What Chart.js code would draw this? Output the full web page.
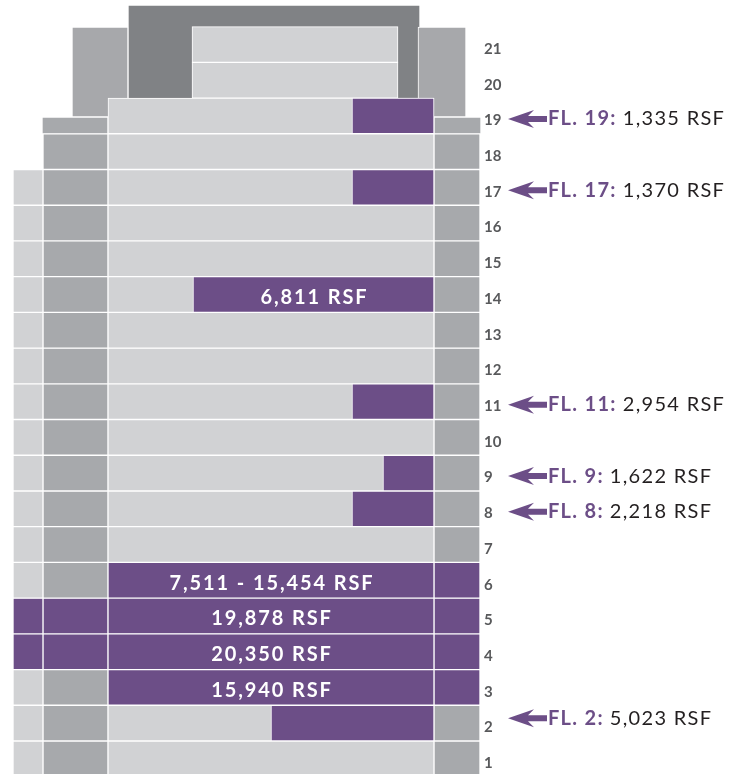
<!DOCTYPE html>
<html>
<head>
<meta charset="utf-8">
<script src="https://cdn.jsdelivr.net/npm/chart.js@4.4.1/dist/chart.umd.min.js"></script>
<style>
  html, body { margin: 0; padding: 0; background: #ffffff; }
  #wrap { width: 744px; height: 774px; position: relative; }
</style>
</head>
<body>
<div id="wrap"><canvas id="stack" width="744" height="774"></canvas></div>
<script>
// Floors of the building (bottom to top)
const floors = [1, 2, 3, 4, 5, 6, 7, 8, 9, 10, 11, 12, 13, 14, 15, 16, 17, 18, 19, 20, 21];

// Available space (purple), and where it starts across the floor plate
const leasedFloors = [19, 17, 14, 11, 9, 8, 6, 5, 4, 3, 2];
const leasedFrom = [352, 352, 193, 352, 383, 352, 108, 108, 108, 108, 271];

// Floors where the side wings are also available
const wingLeasedFloors = [4, 5];
const rightLeasedFloors = [3, 4, 5, 6];

// Labels written inside the bars
const barLabelFloors = [14, 6, 5, 4, 3];
const barLabelTexts = ['6,811 RSF', '7,511 - 15,454 RSF', '19,878 RSF', '20,350 RSF', '15,940 RSF'];

// Callouts on the right
const calloutFloors = [19, 17, 11, 9, 8, 2];
const calloutRsf = ['1,335 RSF', '1,370 RSF', '2,954 RSF', '1,622 RSF', '2,218 RSF', '5,023 RSF'];

// Colours
const PURPLE = '#6c4e87';
const LIGHT = '#d1d2d4';
const MID = '#a7a9ac';
const DARK = '#808285';

// plan units = pixels across the 744 wide page
const Y_MIN = 0.576, Y_MAX = 22.245;
const ROW = 774 / (Y_MAX - Y_MIN);

function rows(list, from, to) {
    return list.map(f => ({ y: f, x: [from, to] }));
}

const lowFloors = floors.filter(f => f <= 19);
const colAFloors = floors.filter(f => f <= 17);
const colBFloors = floors.filter(f => f <= 18);
const topFloors = floors.filter(f => f >= 20);

const barCommon = {
    borderColor: '#ffffff',
    borderWidth: 1,
    borderSkipped: false,
    stack: 'plan',
    barThickness: ROW
};

const datasets = [
    Object.assign({}, barCommon, {
        label: 'available',
        data: leasedFloors.map((f, i) => ({ y: f, x: [leasedFrom[i], 434] })),
        backgroundColor: PURPLE
    }),
    Object.assign({}, barCommon, {
        label: 'core',
        data: rows(lowFloors, 108, 434),
        backgroundColor: LIGHT
    }),
    Object.assign({}, barCommon, {
        label: 'top',
        data: rows(topFloors, 192, 398),
        backgroundColor: LIGHT
    }),
    Object.assign({}, barCommon, {
        label: 'wingA',
        data: rows(colAFloors, 13, 43),
        backgroundColor: colAFloors.map(f => wingLeasedFloors.includes(f) ? PURPLE : LIGHT)
    }),
    Object.assign({}, barCommon, {
        label: 'wingB',
        data: rows(colBFloors, 43, 108),
        backgroundColor: colBFloors.map(f => wingLeasedFloors.includes(f) ? PURPLE : MID)
    }),
    Object.assign({}, barCommon, {
        label: 'wingD',
        data: rows(colBFloors, 434, 480),
        backgroundColor: colBFloors.map(f => rightLeasedFloors.includes(f) ? PURPLE : MID)
    }),
    Object.assign({}, barCommon, {
        label: 'setback19',
        data: [{ y: 18.732, x: [42, 108] }, { y: 18.732, x: [434, 481] }],
        backgroundColor: MID,
        barThickness: 17
    }),
    Object.assign({}, barCommon, {
        label: 'crownSides',
        data: [{ y: 20.229, x: [72, 128] }, { y: 20.229, x: [418, 466] }],
        backgroundColor: '#a7a8ab',
        barThickness: 90
    }),
    Object.assign({}, barCommon, {
        label: 'crown',
        data: [{ y: 20.789, x: [128, 420] }],
        backgroundColor: DARK,
        barThickness: 94
    })
];

const labelsPlugin = {
    id: 'stackLabels',
    afterDatasetsDraw(chart) {
        const ctx = chart.ctx;
        const xs = chart.scales.x;
        const ys = chart.scales.y;
        ctx.save();

        // text inside purple bars
        const meta = chart.getDatasetMeta(0);
        ctx.fillStyle = '#ffffff';
        ctx.font = 'bold 20px Lato';
        ctx.letterSpacing = '1.9px';
        ctx.textAlign = 'center';
        ctx.textBaseline = 'middle';
        meta.data.forEach((el, i) => {
            const k = barLabelFloors.indexOf(leasedFloors[i]);
            if (k < 0) return;
            ctx.fillText(barLabelTexts[k], (el.x + el.base) / 2 + 1, el.y + 3);
        });

        // floor numbers
        ctx.letterSpacing = '0px';
        ctx.textAlign = 'left';
        ctx.fillStyle = '#58595b';
        ctx.font = 'bold 15px Lato';
        floors.forEach(f => {
            ctx.fillText(String(f), xs.getPixelForValue(484), ys.getPixelForValue(f) + 4.5);
        });

        // callouts
        calloutFloors.forEach((f, i) => {
            const y = ys.getPixelForValue(f) + (f === 2 ? -5 : 3);
            const tip = xs.getPixelForValue(508);
            ctx.fillStyle = PURPLE;
            ctx.beginPath();
            ctx.moveTo(tip, y);
            ctx.lineTo(tip + 26, y - 9);
            ctx.lineTo(tip + 20, y - 3);
            ctx.lineTo(tip + 39, y - 3);
            ctx.lineTo(tip + 39, y + 3);
            ctx.lineTo(tip + 20, y + 3);
            ctx.lineTo(tip + 26, y + 9);
            ctx.closePath();
            ctx.fill();

            const head = 'FL. ' + f + ':';
            ctx.font = 'bold 20px Lato';
            ctx.letterSpacing = '1.3px';
            let x = xs.getPixelForValue(548);
            ctx.fillText(head, x, y);
            x += ctx.measureText(head).width + 6;
            ctx.font = '20px Lato';
            ctx.fillStyle = '#231f20';
            ctx.fillText(calloutRsf[i], x, y);
        });
        ctx.restore();
    }
};

new Chart(document.getElementById('stack'), {
    type: 'bar',
    data: { datasets: datasets },
    options: {
        indexAxis: 'y',
        responsive: false,
        animation: false,
        events: [],
        layout: { padding: 0 },
        scales: {
            x: { type: 'linear', min: 0, max: 744, stacked: false, offset: false, display: false },
            y: { type: 'linear', min: Y_MIN, max: Y_MAX, offset: false, display: false }
        },
        plugins: {
            legend: { display: false },
            tooltip: { enabled: false }
        }
    },
    plugins: [labelsPlugin]
});
</script>
</body>
</html>
